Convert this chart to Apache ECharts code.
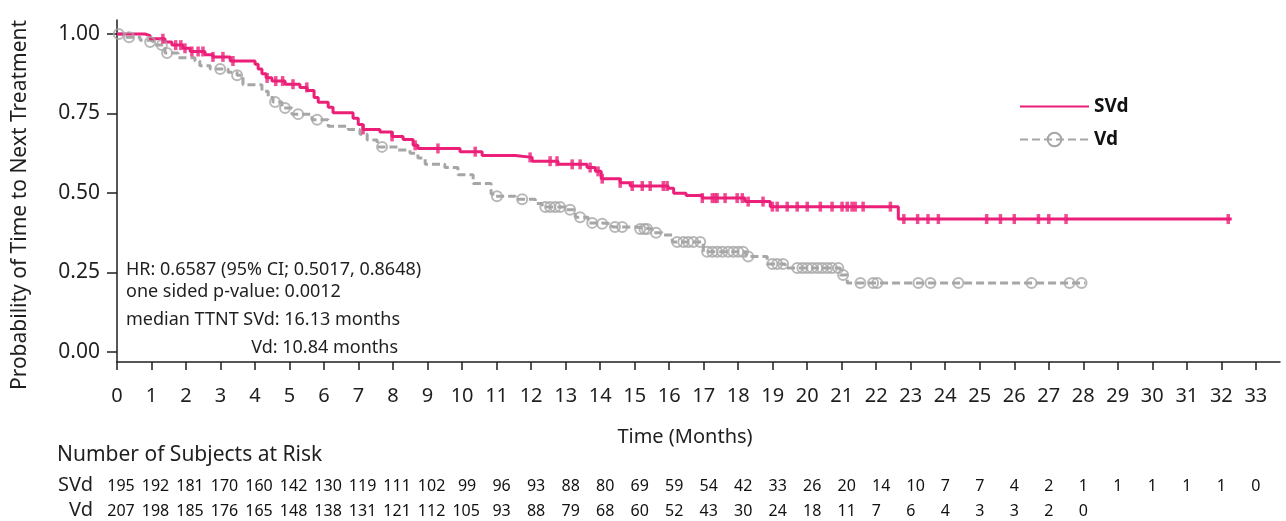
<!DOCTYPE html>
<html>
<head>
<meta charset="utf-8">
<script src="https://cdn.jsdelivr.net/npm/echarts@6/dist/echarts.min.js"></script>
<style>
html,body{margin:0;padding:0;background:#fff;}
#chart{width:1286px;height:521px;}
</style>
</head>
<body>
<div id="chart"></div>
<script>
// ---- Data ----
const svdTime = [0, 0.81, 0.96, 1.39, 1.59, 1.91, 2.12, 2.55, 2.78, 3.28, 4.0, 4.09, 4.2, 4.32, 4.49, 4.87, 5.3, 5.51, 5.71, 5.83, 6.12, 6.26, 6.84, 6.99, 7.13, 7.62, 7.97, 8.29, 8.58, 8.72, 9.94, 10.58, 11.54, 12.03, 12.78, 13.62, 13.86, 14.03, 14.58, 14.87, 15.97, 16.13, 16.49, 16.96, 18.2, 18.93, 22.64, 32.3];
const svdSurv = [1.0, 0.995, 0.985, 0.975, 0.965, 0.955, 0.945, 0.935, 0.928, 0.915, 0.905, 0.89, 0.875, 0.862, 0.852, 0.842, 0.832, 0.822, 0.80, 0.785, 0.77, 0.752, 0.735, 0.715, 0.70, 0.692, 0.678, 0.668, 0.65, 0.64, 0.63, 0.618, 0.612, 0.60, 0.59, 0.58, 0.568, 0.545, 0.532, 0.522, 0.515, 0.499, 0.492, 0.484, 0.473, 0.457, 0.418, 0.418];
const svdCensor = [1.33, 1.7, 1.85, 1.97, 2.17, 2.35, 2.49, 2.78, 3.07, 3.36, 4.35, 4.6, 4.8, 5.1, 5.5, 7.13, 7.97, 8.64, 9.3, 10.38, 11.97, 12.55, 12.75, 13.19, 13.42, 13.71, 13.94, 14.06, 14.58, 14.93, 15.22, 15.45, 15.83, 15.94, 16.96, 17.25, 17.33, 17.39, 17.62, 17.97, 18.12, 18.29, 18.72, 18.99, 19.13, 19.42, 19.71, 20.0, 20.38, 20.72, 21.01, 21.16, 21.3, 21.39, 21.62, 22.41, 22.8, 23.2, 23.5, 23.8, 25.2, 25.6, 26.0, 26.7, 27.0, 27.5, 32.2];

const vdTime = [0, 0.17, 0.67, 0.96, 1.1, 1.39, 1.77, 2.26, 2.4, 2.7, 3.22, 3.48, 3.65, 4.2, 4.38, 4.52, 4.78, 5.07, 5.65, 6.12, 6.7, 7.04, 7.25, 7.54, 8.14, 8.49, 8.72, 8.93, 9.5, 9.88, 10.32, 10.84, 10.96, 11.54, 12.12, 12.32, 13.01, 13.28, 13.65, 14.0, 14.35, 15.01, 15.51, 15.8, 16.09, 16.99, 18.23, 18.84, 19.36, 20.96, 21.16, 28.06];
const vdSurv = [1.0, 0.99, 0.98, 0.975, 0.965, 0.94, 0.925, 0.915, 0.90, 0.89, 0.88, 0.87, 0.84, 0.82, 0.80, 0.786, 0.767, 0.748, 0.73, 0.71, 0.70, 0.685, 0.667, 0.645, 0.635, 0.625, 0.61, 0.59, 0.58, 0.557, 0.53, 0.497, 0.49, 0.48, 0.467, 0.456, 0.447, 0.424, 0.406, 0.403, 0.393, 0.387, 0.375, 0.368, 0.346, 0.315, 0.30, 0.277, 0.264, 0.242, 0.217, 0.217];
const vdCensor = [0.05, 0.35, 0.96, 1.3, 1.45, 2.99, 3.48, 4.58, 4.87, 5.25, 5.8, 7.68, 11.01, 11.74, 12.41, 12.55, 12.7, 12.84, 13.13, 13.42, 13.77, 14.06, 14.43, 14.64, 15.16, 15.28, 15.36, 15.62, 16.23, 16.41, 16.55, 16.7, 16.9, 17.1, 17.25, 17.39, 17.54, 17.71, 17.86, 18.0, 18.14, 18.29, 18.99, 19.13, 19.3, 19.71, 19.86, 20.0, 20.14, 20.29, 20.43, 20.58, 20.72, 20.9, 21.04, 21.54, 21.91, 22.03, 23.22, 23.57, 24.38, 26.5, 27.6, 27.95];

const svdRiskMonths = [0,1,2,3,4,5,6,7,8,9,10,11,12,13,14,15,16,17,18,19,20,21,22,23,24,25,26,27,28,29,30,31,32,33];
const svdRisk = [195,192,181,170,160,142,130,119,111,102,99,96,93,88,80,69,59,54,42,33,26,20,14,10,7,7,4,2,1,1,1,1,1,0];
const vdRiskMonths = [0,1,2,3,4,5,6,7,8,9,10,11,12,13,14,15,16,17,18,19,20,21,22,23,24,25,26,27,28];
const vdRisk = [207,198,185,176,165,148,138,131,121,112,105,93,88,79,68,60,52,43,30,24,18,11,7,6,4,3,3,2,0];

const xTicks = [0,1,2,3,4,5,6,7,8,9,10,11,12,13,14,15,16,17,18,19,20,21,22,23,24,25,26,27,28,29,30,31,32,33];
const yTicks = [0, 0.25, 0.5, 0.75, 1.0];
const seriesNames = ['SVd', 'Vd'];
const annotationLines = ['HR: 0.6587 (95% CI; 0.5017, 0.8648)', 'one sided p-value: 0.0012', 'median TTNT SVd: 16.13 months', 'Vd: 10.84 months'];

// ---- Build ----
const PINK = '#ec1f78';
const GRAY = '#a6a6a6';
const FONT = 'Noto Sans';
const TXT = '#1f1f1f';

function zip(a, b) { return a.map((v, i) => [v, b[i]]); }
function stepValue(times, surv, t) {
  let s = surv[0];
  for (let i = 0; i < times.length; i++) { if (times[i] <= t) s = surv[i]; else break; }
  return s;
}
const RISK_FS = 16;
const riskRich = {
  a: { fontSize: RISK_FS, color: '#111', fontFamily: FONT, padding: [0, 0, 0, 0] },
  b: { fontSize: RISK_FS, color: '#111', fontFamily: FONT, padding: [0, 0, 0, 10] },
  c: { fontSize: RISK_FS, color: '#111', fontFamily: FONT, padding: [0, 0, 0, 8] }
};
function riskFormatter(months, counts) {
  return v => {
    const idx = months.indexOf(Math.round(v));
    if (idx < 0) return '';
    const s = String(counts[idx]);
    const key = s.length === 1 ? 'a' : (s.length === 2 ? 'b' : 'c');
    return '{' + key + '|' + s + '}';
  };
}
function riskAxis(gridIndex, months, counts) {
  return {
    type: 'value', gridIndex: gridIndex, min: 0, max: 33.7, position: 'bottom',
    axisLine: { show: false }, axisTick: { show: false }, splitLine: { show: false },
    axisLabel: { customValues: months, margin: 6, fontSize: RISK_FS, color: '#111', fontFamily: FONT,
      formatter: riskFormatter(months, counts), rich: riskRich }
  };
}
function hiddenY(gridIndex) {
  return { type: 'value', gridIndex: gridIndex, show: false, min: 0, max: 1 };
}

const chart = echarts.init(document.getElementById('chart'), null, { renderer: 'canvas' });
const option = {
  animation: false,
  backgroundColor: '#fff',
  textStyle: { fontFamily: FONT },
  grid: [
    { left: 117, right: 6, top: 20, bottom: 159, containLabel: false },
    { left: 117, right: 6, top: 462, height: 10, containLabel: false },
    { left: 117, right: 6, top: 487, height: 10, containLabel: false }
  ],
  xAxis: [
    {
      type: 'value', gridIndex: 0, min: 0, max: 33.7,
      axisLine: { show: true, onZero: false, lineStyle: { color: TXT, width: 1.5 } },
      axisTick: { show: true, length: 8, customValues: xTicks, lineStyle: { color: TXT, width: 1.5 } },
      axisLabel: { customValues: xTicks, margin: 24, fontSize: 20, color: TXT, fontFamily: FONT },
      splitLine: { show: false }
    },
    riskAxis(1, svdRiskMonths, svdRisk),
    riskAxis(2, vdRiskMonths, vdRisk)
  ],
  yAxis: [
    {
      type: 'value', gridIndex: 0, min: -0.0315, max: 1.044,
      axisLine: { show: true, onZero: false, lineStyle: { color: TXT, width: 1.5 } },
      axisTick: { show: true, length: 10, customValues: yTicks, lineStyle: { color: TXT, width: 1.5 } },
      axisLabel: { customValues: yTicks, formatter: v => v.toFixed(2), margin: 17, fontSize: 21, color: TXT, fontFamily: FONT },
      splitLine: { show: false }
    },
    hiddenY(1),
    hiddenY(2)
  ],
  legend: {
    data: seriesNames,
    orient: 'vertical',
    left: 1019, top: 97, padding: 0,
    itemWidth: 69, itemHeight: 17, itemGap: 14,
    textStyle: { fontSize: 19, fontWeight: 'bold', color: '#111', fontFamily: FONT },
    selectedMode: false
  },
  graphic: [
    { type: 'text', x: 20, y: 205, rotation: Math.PI / 2, style: { text: 'Probability of Time to Next Treatment', font: '21px "Noto Sans"', fill: TXT, align: 'center', verticalAlign: 'middle' } },
    { type: 'text', x: 685, y: 437, style: { text: 'Time (Months)', font: '20px "Noto Sans"', fill: TXT, align: 'center', verticalAlign: 'middle' } },
    { type: 'text', x: 57, y: 455, style: { text: 'Number of Subjects at Risk', font: '21px "Noto Sans"', fill: TXT, align: 'left', verticalAlign: 'middle' } },
    { type: 'text', x: 93, y: 485, style: { text: seriesNames[0], font: '20px "Noto Sans"', fill: TXT, align: 'right', verticalAlign: 'middle' } },
    { type: 'text', x: 93, y: 510, style: { text: seriesNames[1], font: '20px "Noto Sans"', fill: TXT, align: 'right', verticalAlign: 'middle' } },
    { type: 'text', x: 126, y: 270, style: { text: annotationLines[0], font: '18px "Noto Sans"', fill: TXT, align: 'left', verticalAlign: 'middle' } },
    { type: 'text', x: 126, y: 292, style: { text: annotationLines[1], font: '18px "Noto Sans"', fill: TXT, align: 'left', verticalAlign: 'middle' } },
    { type: 'text', x: 126, y: 320, style: { text: annotationLines[2], font: '18px "Noto Sans"', fill: TXT, align: 'left', verticalAlign: 'middle' } },
    { type: 'text', x: 398, y: 348, style: { text: annotationLines[3], font: '18px "Noto Sans"', fill: TXT, align: 'right', verticalAlign: 'middle' } }
  ],
  series: [
    {
      name: 'SVd', type: 'line', step: 'end', xAxisIndex: 0, yAxisIndex: 0,
      data: zip(svdTime, svdSurv), symbol: 'none', z: 4,
      lineStyle: { color: PINK, width: 3 }, itemStyle: { color: 'rgba(255,255,255,0)', borderWidth: 0 }
    },
    {
      name: 'Vd', type: 'line', step: 'end', xAxisIndex: 0, yAxisIndex: 0,
      data: zip(vdTime, vdSurv), symbol: 'circle', symbolSize: 12, showSymbol: false, z: 3,
      lineStyle: { color: GRAY, width: 3, type: [8, 4] },
      itemStyle: { color: 'rgba(255,255,255,0)', borderColor: GRAY, borderWidth: 2 }
    },
    {
      name: 'SVd censored', type: 'scatter', xAxisIndex: 0, yAxisIndex: 0, z: 5,
      data: svdCensor.map(t => [t, stepValue(svdTime, svdSurv, t)]),
      symbol: 'rect', symbolSize: [3.5, 10], itemStyle: { color: PINK }
    },
    {
      name: 'Vd censored', type: 'scatter', xAxisIndex: 0, yAxisIndex: 0, z: 4,
      data: vdCensor.map(t => [t, stepValue(vdTime, vdSurv, t)]),
      symbol: 'circle', symbolSize: 10,
      itemStyle: { color: 'rgba(255,255,255,0)', borderColor: GRAY, borderWidth: 2 }
    }
  ]
};
chart.setOption(option);
</script>
</body>
</html>
